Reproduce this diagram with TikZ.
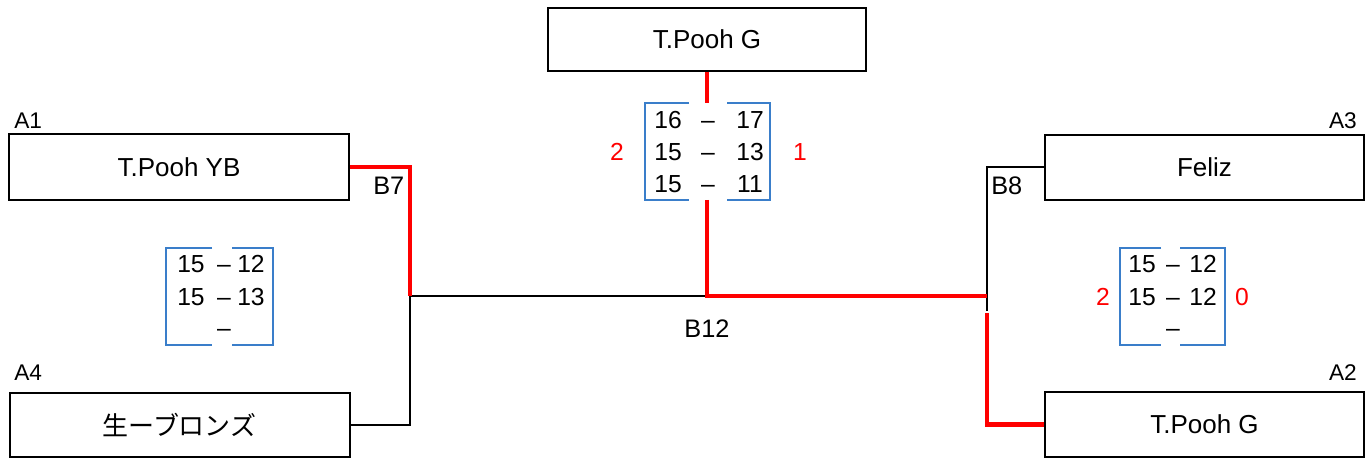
\documentclass[tikz,border=0pt]{standalone}
\usepackage{fontspec}
\setmainfont{Liberation Sans}
\newfontfamily\jpfont{Noto Sans CJK JP}
\definecolor{winred}{RGB}{255,0,0}
\definecolor{setblue}{RGB}{58,126,202}
\tikzset{
  team/.style={draw,line width=1.5pt,minimum width=255pt,minimum height=49pt,font=\fontsize{19.5}{22}\selectfont},
  pool/.style={font=\fontsize{17}{19}\selectfont},
  match/.style={font=\fontsize{19}{21}\selectfont},
  pt/.style={font=\fontsize{18.5}{21}\selectfont,text height=13.3pt,text depth=0pt},
  win/.style={pt,text=winred},
  lose/.style={line width=1.5pt,black},
  won/.style={line width=3.5pt,winred},
  bracket/.style={line width=1.5pt,setblue}
}
\begin{document}
\begin{tikzpicture}[x=0.75pt,y=-0.75pt,line cap=butt,line join=miter]
	\useasboundingbox (0,0) rectangle (1372,459);
	% teams
	\node[team,minimum width=238.5pt,minimum height=47pt] (top) at (707,39.5) {T.Pooh G};
	\node[team] (a1) at (179,167) {T.Pooh YB};
	\node[team,minimum height=48pt] (a4) at (179.5,425) {\jpfont 生ーブロンズ};
	\node[team,minimum width=239pt,minimum height=48.5pt] (a3) at (1204.5,167.5) {Feliz};
	\node[team,minimum width=239pt,minimum height=48.5pt] (a2) at (1204.5,424.5) {T.Pooh G};
	\node[pool,anchor=base west,inner sep=0pt] (la1) at (14,129) {A1};
	\node[pool,anchor=base west,inner sep=0pt] (la4) at (14,381) {A4};
	\node[pool,anchor=base east,inner sep=0pt] (la3) at (1357,129) {A3};
	\node[pool,anchor=base east,inner sep=0pt] (la2) at (1357,381) {A2};
	% joints
	\coordinate (b7) at (410,296);
	\coordinate (b12) at (707,296);
	\coordinate (b8) at (987,296);
	\coordinate (b8lo) at (987,311);
	\coordinate (b8red) at (987,313);
	\coordinate (ctop) at (707,103);
	\coordinate (cbot) at (707,200);
	% lines
	\draw[lose] (b7) |- (a4.east);
	\draw[lose] (b7) -- (b12);
	\draw[lose] (a3.west) -| (b8lo);
	\draw[won] (a1.east) -| (b7);
	\draw[won] (top.south) -- (ctop);
	\draw[won] (cbot) -- (b12) -- (b8);
	\draw[won] (b8red) |- (a2.west);
	\node[match,anchor=base west,inner sep=0pt] (n7) at (373,195) {B7};
	\node[match,anchor=base west,inner sep=0pt] (n8) at (991,195) {B8};
	\node[match,anchor=base,inner sep=0pt] (n12) at (707,338) {B12};
	% final
	\draw[bracket] (689,103) -- (645,103) -- (645,200) -- (689,200);
	\draw[bracket] (727,103) -- (770,103) -- (770,200) -- (727,200);
	\foreach \y/\l/\r in {120/16/17,152/15/13,184/15/11}{
		\node[pt] at (668,\y) {\l};
		\node[pt] at (708,\y) {–};
		\node[pt] at (750,\y) {\r};
	}
	\node[win] (w12) at (617,152) {2};
	\node[win] (l12) at (800,152) {1};
	% B7 score
	\draw[bracket] (212,248) -- (166,248) -- (166,345) -- (212,345);
	\draw[bracket] (232,248) -- (273,248) -- (273,345) -- (232,345);
	\foreach \y/\l/\r in {264/15/12,297/15/13}{
		\node[pt] at (191,\y) {\l};
		\node[pt] at (251,\y) {\r};
	}
	\foreach \y in {264,297,328} \node[pt] at (224,\y) {–};
	% B8 score
	\draw[bracket] (1161,248) -- (1120,248) -- (1120,345) -- (1161,345);
	\draw[bracket] (1180,248) -- (1225,248) -- (1225,345) -- (1180,345);
	\foreach \y/\l/\r in {264/15/12,297/15/12}{
		\node[pt] at (1142,\y) {\l};
		\node[pt] at (1203,\y) {\r};
	}
	\foreach \y in {264,297,328} \node[pt] at (1173,\y) {–};
	\node[win] (w8) at (1103,297) {2};
	\node[win] (l8) at (1242,297) {0};
\end{tikzpicture}
\end{document}
